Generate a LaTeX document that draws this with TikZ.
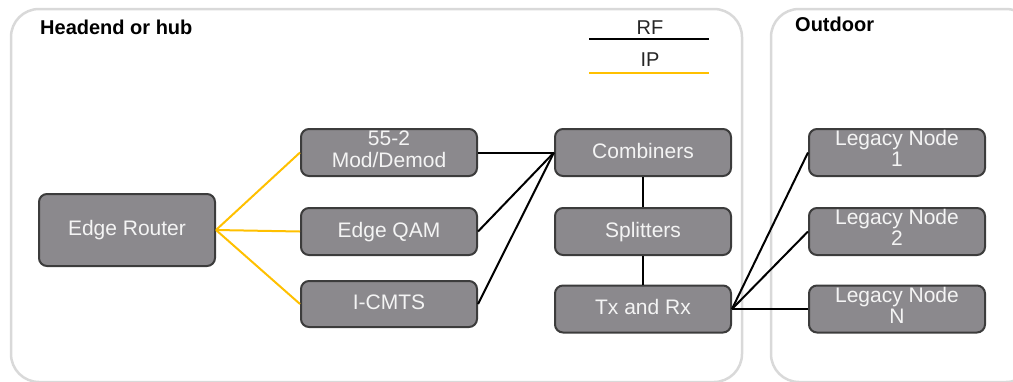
\documentclass[tikz,border=0pt]{standalone}
\usepackage{fontspec}
\setmainfont{Liberation Sans}
\definecolor{boxfill}{HTML}{8B898D}
\definecolor{boxdraw}{HTML}{3C3C3C}
\definecolor{boxtext}{HTML}{F4F4F4}
\definecolor{frame}{HTML}{D9D9D9}
\definecolor{ipcol}{HTML}{FFC000}
\newcommand{\twoline}[2]{\begin{tabular}[t]{@{}c@{}}#1\\#2\end{tabular}}
\tikzset{
  unit/.style={draw=boxdraw, fill=boxfill, line width=2pt, rounded corners=8pt,
    minimum width=176pt, minimum height=47pt, inner sep=0pt, text=boxtext,
    font=\fontsize{21}{21}\selectfont, text height=15pt, text depth=4pt},
  unittwo/.style={unit, text height=15pt, text depth=29pt},
  zone/.style={draw=frame, line width=2.5pt, rounded corners=28pt},
  rf/.style={draw=black, line width=2pt},
  ip/.style={draw=ipcol, line width=2pt},
  title/.style={font=\fontsize{20}{20}\selectfont\bfseries, inner sep=0pt, anchor=base west},
  legend/.style={font=\fontsize{20}{20}\selectfont, inner sep=0pt, anchor=base, text=black!85}
}
\begin{document}
\begin{tikzpicture}[x=1pt,y=-1pt]
\useasboundingbox (0,0) rectangle (1013,381);
\begin{scope}
\clip (0,0) rectangle (1013,381);
\draw[zone] (11,9) rectangle (742,382);
\draw[zone] (771,9) rectangle (1034,382);
\end{scope}
\node[title] (thub) at (40,34.7) {Headend or hub};
\node[title] (tout) at (795,31.7) {Outdoor};
% legend
\node[legend] (lrf) at (650,34.3) {RF};
\node[legend] (lip) at (650,66.7) {IP};
\coordinate (rfa) at (589,39);
\coordinate (rfb) at (709,39);
\coordinate (ipa) at (589,73);
\coordinate (ipb) at (709,73);
\draw[rf] (rfa) -- (rfb);
\draw[ip] (ipa) -- (ipb);
% nodes
\node[unit, minimum height=72pt] (er) at (127,230) {Edge Router};
\node[unittwo] (mod) at (389,152.5) {\twoline{55-2}{Mod/Demod}};
\node[unit] (qam) at (389,231.5) {Edge QAM};
\node[unit, minimum height=46pt] (cmts) at (389,304) {I-CMTS};
\node[unit] (comb) at (643,152.5) {Combiners};
\node[unit] (split) at (643,231.5) {Splitters};
\node[unit] (tx) at (643,309) {Tx and Rx};
\node[unittwo] (l1) at (897,152.5) {\twoline{Legacy Node}{1}};
\node[unittwo] (l2) at (897,231.5) {\twoline{Legacy Node}{2}};
\node[unittwo] (ln) at (897,309) {\twoline{Legacy Node}{N}};
% IP links
\draw[ip] (er.east) -- (mod.west);
\draw[ip] (er.east) -- (qam.west);
\draw[ip] (er.east) -- (cmts.west);
% RF links
\draw[rf] (mod.east) -- (comb.west);
\draw[rf] (qam.east) -- (comb.west);
\draw[rf] (cmts.east) -- (comb.west);
\draw[rf] (comb.south) -- (split.north);
\draw[rf] (split.south) -- (tx.north);
\draw[rf] (tx.east) -- (l1.west);
\draw[rf] (tx.east) -- (l2.west);
\draw[rf] (tx.east) -- (ln.west);
\end{tikzpicture}
\end{document}
